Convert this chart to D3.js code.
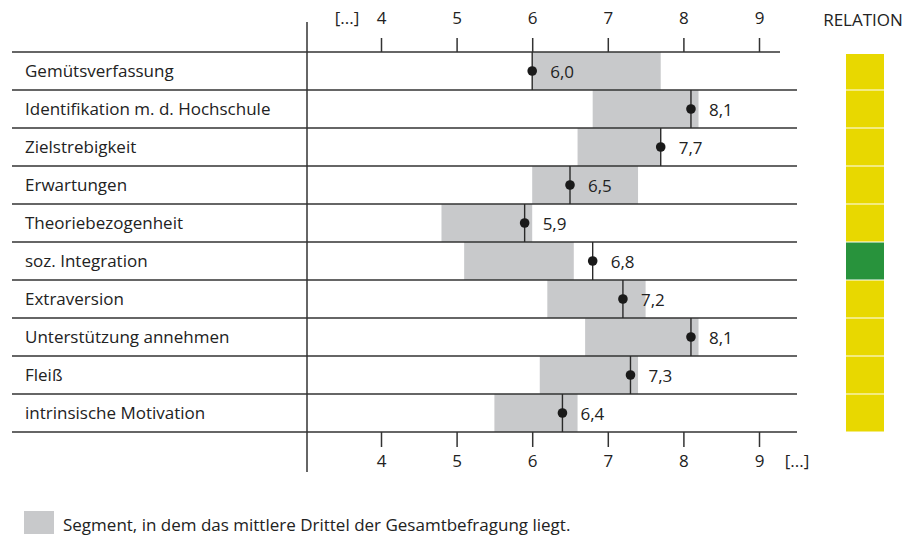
<!DOCTYPE html>
<html>
<head>
  <meta charset="utf-8">
  <title>Relation</title>
  <script src="https://d3js.org/d3.v7.min.js"></script>
  <style>
    body { margin: 0; background: #fff; }
    svg { font-family: "Open Sans", "Noto Sans", sans-serif; }
    .rowline, .sep, .axisline { stroke: #333; stroke-width: 1.5px; }
    .tick line { stroke: #333; stroke-width: 1.5px; }
    .tick text { font-family: "Open Sans", "Noto Sans", sans-serif; font-size: 17px; fill: #222; }
    .lbl { font-size: 17px; fill: #222; }
  </style>
</head>
<body>
  <script>
    var categories = ["Gemütsverfassung", "Identifikation m. d. Hochschule", "Zielstrebigkeit",
        "Erwartungen", "Theoriebezogenheit", "soz. Integration", "Extraversion",
        "Unterstützung annehmen", "Fleiß", "intrinsische Motivation"];
    var means   = [6.0, 8.1, 7.7, 6.5, 5.9, 6.8, 7.2, 8.1, 7.3, 6.4];
    var segLow  = [6.0, 6.8, 6.6, 6.0, 4.8, 5.1, 6.2, 6.7, 6.1, 5.5];
    var segHigh = [7.7, 8.2, 7.7, 7.4, 6.0, 6.55, 7.5, 8.2, 7.4, 6.6];
    var relation = ["gelb", "gelb", "gelb", "gelb", "gelb", "grün", "gelb", "gelb", "gelb", "gelb"];
    var tickValues = [4, 5, 6, 7, 8, 9];

    var relColor = { "gelb": "#e8d800", "grün": "#28933c" };

    var width = 907, height = 536;
    var svg = d3.select("body").append("svg")
        .attr("width", width)
        .attr("height", height);

    var x = d3.scaleLinear().domain([4, 9]).range([381, 759]);
    var y = d3.scaleBand().domain(categories).range([52, 432]);

    var rows = categories.map(function(c, i) {
        return { name: c, mean: means[i], lo: segLow[i], hi: segHigh[i], rel: relation[i] };
    });

    // grey segments (middle third)
    svg.append("g").selectAll("rect")
        .data(rows)
        .enter().append("rect")
        .attr("x", d => x(d.lo))
        .attr("y", d => y(d.name))
        .attr("width", d => x(d.hi) - x(d.lo))
        .attr("height", y.bandwidth())
        .attr("fill", "#c8c9cb");

    // row lines
    svg.append("line").attr("class", "axisline")
        .attr("x1", 12).attr("x2", 780).attr("y1", 52).attr("y2", 52);
    svg.append("g").selectAll("line")
        .data(rows)
        .enter().append("line")
        .attr("class", "rowline")
        .attr("x1", 12).attr("x2", 797)
        .attr("y1", d => y(d.name) + y.bandwidth())
        .attr("y2", d => y(d.name) + y.bandwidth());

    // separator between labels and plot
    svg.append("line").attr("class", "sep")
        .attr("x1", 307).attr("x2", 307).attr("y1", 22).attr("y2", 472);

    // axes
    var topAxis = svg.append("g").attr("transform", "translate(0,52)")
        .call(d3.axisTop(x).tickValues(tickValues).tickSize(14).tickPadding(14).tickFormat(d3.format("d")));
    topAxis.select(".domain").remove();

    var bottomAxis = svg.append("g").attr("transform", "translate(0,432)")
        .call(d3.axisBottom(x).tickValues(tickValues).tickSize(15).tickPadding(8).tickFormat(d3.format("d")));
    bottomAxis.select(".domain").remove();

    svg.append("text").attr("class", "lbl")
        .attr("x", 347).attr("y", 24).attr("text-anchor", "middle").text("[...]");
    svg.append("text").attr("class", "lbl")
        .attr("x", 797).attr("y", 467).attr("text-anchor", "middle").text("[...]");
    svg.append("text").attr("class", "lbl")
        .attr("x", 863).attr("y", 26).attr("text-anchor", "middle").text("RELATION");

    // row labels
    svg.append("g").selectAll("text")
        .data(rows)
        .enter().append("text")
        .attr("class", "lbl")
        .attr("x", 25)
        .attr("y", d => y(d.name) + y.bandwidth() / 2)
        .attr("dy", "0.36em")
        .text(d => d.name);

    // mean markers
    var m = svg.append("g").selectAll("g")
        .data(rows)
        .enter().append("g");
    m.append("line")
        .attr("x1", d => x(d.mean)).attr("x2", d => x(d.mean))
        .attr("y1", d => y(d.name)).attr("y2", d => y(d.name) + y.bandwidth())
        .attr("stroke", "#2a2a2a").attr("stroke-width", 1.4);
    m.append("circle")
        .attr("cx", d => x(d.mean))
        .attr("cy", d => y(d.name) + y.bandwidth() / 2)
        .attr("r", 4.8)
        .attr("fill", "#1a1a1a");
    m.append("text")
        .attr("class", "lbl")
        .attr("x", d => x(d.mean) + 18)
        .attr("y", d => y(d.name) + y.bandwidth() / 2)
        .attr("dy", "0.4em")
        .text(d => d3.format(".1f")(d.mean).replace(".", ","));

    // relation column
    svg.append("g").selectAll("rect")
        .data(rows)
        .enter().append("rect")
        .attr("x", 846)
        .attr("y", (d, i) => y(d.name) + (i === 0 ? 2 : 0.5))
        .attr("width", 38)
        .attr("height", (d, i) => y.bandwidth() - (i === 0 ? 2.5 : 1))
        .attr("fill", d => relColor[d.rel]);

    // legend
    svg.append("rect")
        .attr("x", 24).attr("y", 511).attr("width", 30).attr("height", 23)
        .attr("fill", "#c8c9cb");
    svg.append("text").attr("class", "lbl")
        .attr("x", 63).attr("y", 531)
        .text("Segment, in dem das mittlere Drittel der Gesamtbefragung liegt.");
  </script>
</body>
</html>
